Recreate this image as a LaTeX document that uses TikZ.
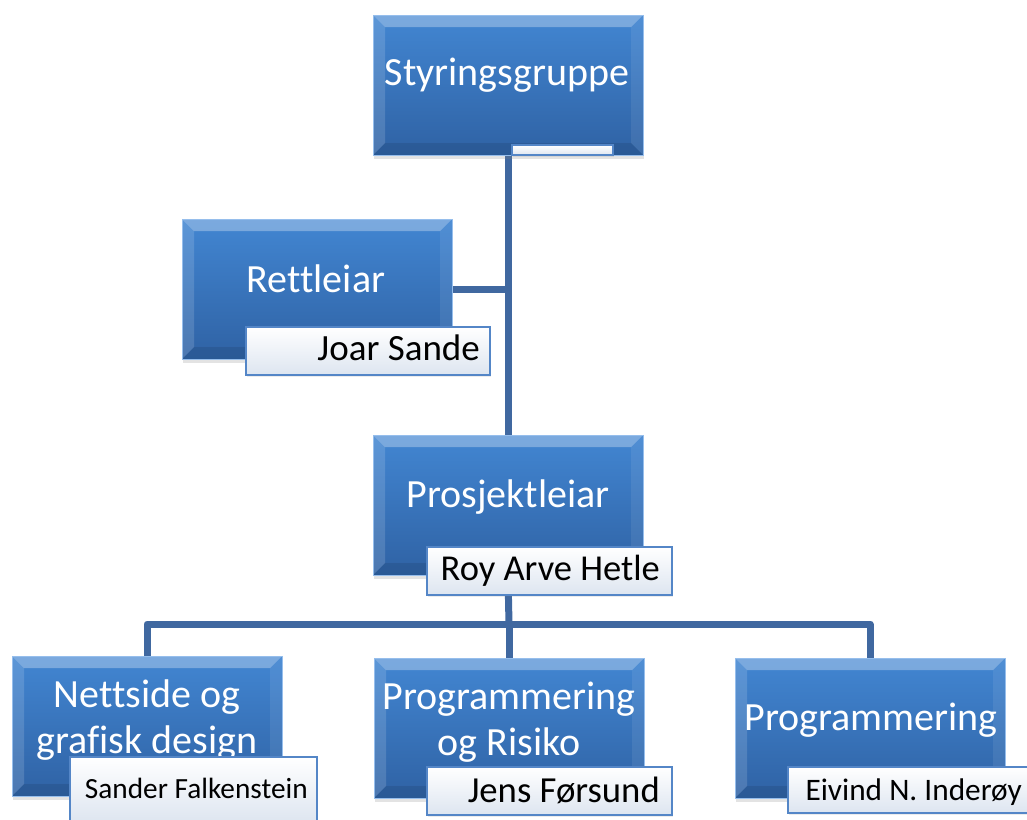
\documentclass[tikz,border=0pt]{standalone}
\usepackage{fontspec}
\setmainfont{Carlito}[Ligatures=NoCommon]
\usetikzlibrary{shadows,backgrounds}

\definecolor{facetop}{RGB}{66,134,210}
\definecolor{facebot}{RGB}{47,98,164}
\definecolor{rimcol}{RGB}{150,190,236}
\definecolor{linkcol}{RGB}{64,104,160}
\definecolor{tagedge}{RGB}{84,134,199}
\definecolor{tagbot}{RGB}{221,229,240}

% bevelled edges of a role box
\newcommand\rolebevel{%
  \coordinate (bnw) at (path picture bounding box.north west);
  \coordinate (bne) at (path picture bounding box.north east);
  \coordinate (bsw) at (path picture bounding box.south west);
  \coordinate (bse) at (path picture bounding box.south east);
  \fill[white,opacity=.30] (bnw) -- (bne) -- ([xshift=-12pt,yshift=-12pt]bne)
    -- ([xshift=12pt,yshift=-12pt]bnw) -- cycle;
  \fill[white,opacity=.14] (bnw) -- ([xshift=12pt,yshift=-12pt]bnw)
    -- ([xshift=12pt,yshift=12pt]bsw) -- (bsw) -- cycle;
  \fill[black,opacity=.09] (bsw) -- (bse) -- ([xshift=-12pt,yshift=12pt]bse)
    -- ([xshift=12pt,yshift=12pt]bsw) -- cycle;
  \fill[white,opacity=.08] (bne) -- (bse) -- ([xshift=-12pt,yshift=12pt]bse)
    -- ([xshift=-12pt,yshift=-12pt]bne) -- cycle;
}

\tikzset{
  rolebox/.style={rectangle, minimum width=270pt, minimum height=140pt,
    inner sep=0pt, top color=facetop, bottom color=facebot,
    draw=rimcol, line width=1pt,
    drop shadow={shadow xshift=1pt, shadow yshift=-4pt, opacity=0.22},
    path picture={\rolebevel}},
  roletext/.style={text=white, font=\fontsize{40}{46}\selectfont,
    align=center, inner sep=0pt},
  nametag/.style={rectangle, inner sep=0pt,
    top color=white, bottom color=tagbot, draw=tagedge, line width=1.2pt,
    drop shadow={shadow xshift=1pt, shadow yshift=-2pt, opacity=0.15}},
  nametext/.style={text=black, inner sep=0pt, anchor=base east},
  link/.style={draw=linkcol, line width=7pt, line join=round},
}

\begin{document}
\begin{tikzpicture}[x=1pt, y=-1pt]
\useasboundingbox (0,0) rectangle (1027,819);
\clip (0,0) rectangle (1027,819);

% role boxes
\node[rolebox] (sty) at (508,85)  {};
\node[rolebox] (ret) at (317,289) {};
\node[rolebox] (pro) at (508,505) {};
\node[rolebox] (net) at (147,726) {};
\node[rolebox] (pr)  at (509,728) {};
\node[rolebox] (pg)  at (870,728) {};

% role titles
\node[roletext, anchor=base] (sty-t) at (507,85)  {Styringsgruppe};
\node[roletext, anchor=base] (ret-t) at (316,292) {Rettleiar};
\node[roletext, anchor=base] (pro-t) at (508,507) {Prosjektleiar};
\node[roletext] (net-t) at ([yshift=6pt]net.center) {Nettside og\\grafisk design};
\node[roletext] (pr-t)  at ([yshift=6pt]pr.center) {Programmering\\og Risiko};
\node[roletext, anchor=base] (pg-t) at (871,730) {Programmering};

% name tags
\node[nametag, minimum width=101pt, minimum height=10pt] (sty-n) at (562.5,150) {};
\node[nametag, minimum width=244pt, minimum height=48pt] (ret-n) at (368,351) {};
\node[nametag, minimum width=245pt, minimum height=48pt] (pro-n) at (549.5,571) {};
\node[nametag, minimum width=247pt, minimum height=66pt] (net-n) at (193.5,790) {};
\node[nametag, minimum width=245pt, minimum height=48pt] (pr-n)  at (549.5,791) {};
\node[nametag, minimum width=245pt, minimum height=46pt] (pg-n)  at (910.5,790) {};

% names on the tags
\node[nametext, font=\fontsize{37}{40}\selectfont]   (ret-m) at (480,360)  {Joar Sande};
\node[nametext, font=\fontsize{36.5}{40}\selectfont] (pro-m) at (660,580)  {Roy Arve Hetle};
\node[nametext, font=\fontsize{29.3}{32}\selectfont] (net-m) at (308,798)  {Sander Falkenstein};
\node[nametext, font=\fontsize{36.7}{40}\selectfont] (pr-m)  at (660,802)  {Jens Førsund};
\node[nametext, font=\fontsize{31.3}{34}\selectfont] (pg-m)  at (1022,800) {Eivind N. Inderøy};

% connectors
\begin{scope}[on background layer]
  \coordinate (bus) at (509,624);
  \draw[link] (sty.south) -- (pro.north);
  \draw[link] (ret.east) -- (ret.east -| sty.south);
  \draw[link] (pro.south) -- (bus);
  \draw[link] (net.north) |- (bus) -| (pg.north);
  \draw[link] (bus) -- (pr.north);
\end{scope}
\end{tikzpicture}
\end{document}
